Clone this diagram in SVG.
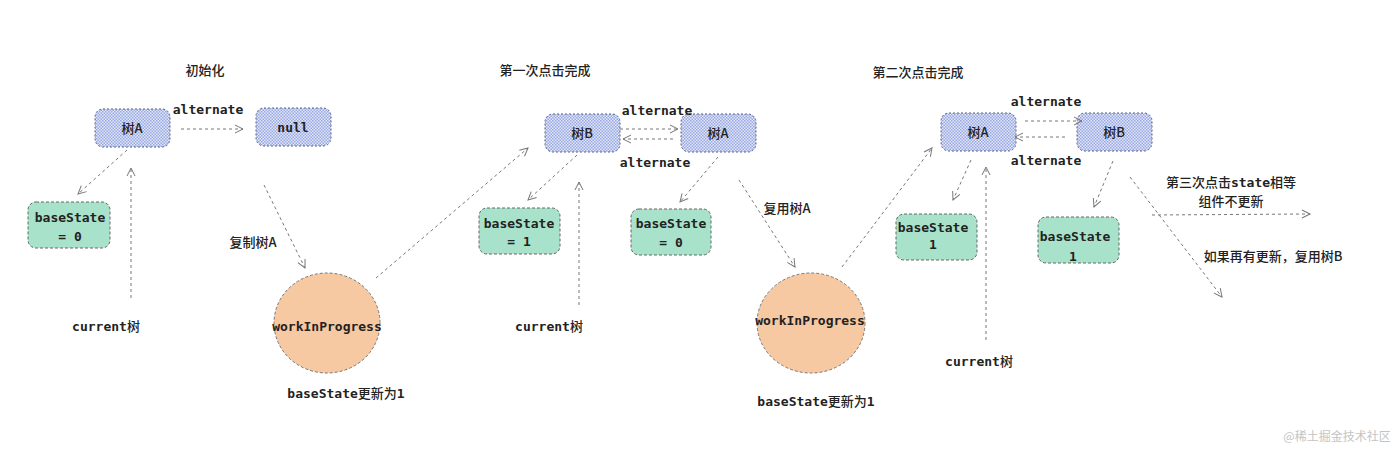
<svg xmlns="http://www.w3.org/2000/svg" width="1400" height="459" viewBox="0 0 1400 459">
<defs>
<pattern id="hatch" width="3" height="3" patternUnits="userSpaceOnUse">
<rect width="3" height="3" fill="#e3e8f9"/>
<rect width="1.5" height="1.5" fill="#97a7e2"/>
<rect x="1.5" y="1.5" width="1.5" height="1.5" fill="#97a7e2"/>
</pattern>
<marker id="arr" markerWidth="12" markerHeight="12" refX="9" refY="5" orient="auto" markerUnits="userSpaceOnUse">
<path d="M1,1 L9,5 L1,9" fill="none" stroke="#777" stroke-width="1"/>
</marker>
</defs>
<style>
.tree{fill:url(#hatch);stroke:#5a5f85;stroke-width:1;stroke-dasharray:2 2}
.state{fill:#a9e2ca;stroke:#666;stroke-width:1;stroke-dasharray:3 2}
.wip{fill:#f7c9a2;stroke:#777;stroke-width:1;stroke-dasharray:3 2}
.lbl{font-family:"DejaVu Sans Mono","Noto Sans CJK SC",monospace;font-size:13px;font-weight:bold;fill:#222;text-anchor:middle}
.cn{font-family:"Noto Sans CJK SC","Noto Sans",sans-serif;font-size:13px;font-weight:500;fill:#222;text-anchor:middle}
.mix{font-family:"DejaVu Sans Mono","Noto Sans CJK SC",monospace;font-size:13px;font-weight:bold;fill:#222;text-anchor:middle}
.conn line{stroke:#777;stroke-width:1;stroke-dasharray:3 3;marker-end:url(#arr)}
.wm{font-family:"Noto Sans CJK SC",sans-serif;font-size:12px;fill:#c4c4c4;text-anchor:middle}
</style>
<rect width="1400" height="459" fill="#ffffff"/>

<!-- titles -->
<text class="cn" x="205" y="75">初始化</text>
<text class="cn" x="545" y="75">第一次点击完成</text>
<text class="cn" x="918" y="77">第二次点击完成</text>

<!-- Section 1 -->
<g id="treeA1"><rect class="tree" x="95" y="109" width="75" height="38" rx="8"/><text class="cn" x="132" y="133">树A</text></g>
<g id="null1"><rect class="tree" x="256" y="108" width="75" height="38" rx="8"/><text class="lbl" x="293" y="132">null</text></g>
<g id="state1"><rect class="state" x="28" y="202" width="82" height="46" rx="8"/><text class="lbl" x="70" y="222">baseState</text><text class="lbl" x="70" y="241">= 0</text></g>
<g id="wip1"><ellipse class="wip" cx="327" cy="323" rx="53" ry="50"/><text class="lbl" x="327" y="331">workInProgress</text></g>
<g id="cur1"><text class="mix" x="106" y="331">current<tspan font-weight="500">树</tspan></text></g>
<g id="note1"><text class="mix" x="346" y="398">baseState<tspan font-weight="500">更新为</tspan>1</text></g>
<g id="copy1"><text class="cn" x="253" y="247">复制树A</text></g>
<g id="alt1"><text class="lbl" x="208" y="114">alternate</text></g>

<!-- Section 2 -->
<g id="treeB2"><rect class="tree" x="545" y="114" width="75" height="38" rx="8"/><text class="cn" x="582" y="138">树B</text></g>
<g id="treeA2"><rect class="tree" x="681" y="114" width="75" height="38" rx="8"/><text class="cn" x="718" y="138">树A</text></g>
<g id="state2a"><rect class="state" x="479" y="208" width="81" height="46" rx="8"/><text class="lbl" x="519" y="228">baseState</text><text class="lbl" x="519" y="246">= 1</text></g>
<g id="state2b"><rect class="state" x="631" y="209" width="80" height="46" rx="8"/><text class="lbl" x="671" y="228">baseState</text><text class="lbl" x="671" y="247">= 0</text></g>
<g id="alt2a"><text class="lbl" x="657" y="115">alternate</text></g>
<g id="alt2b"><text class="lbl" x="655" y="167">alternate</text></g>
<g id="cur2"><text class="mix" x="549" y="331">current<tspan font-weight="500">树</tspan></text></g>
<g id="reuse2"><text class="cn" x="787" y="213">复用树A</text></g>
<g id="wip2"><ellipse class="wip" cx="811" cy="323" rx="54" ry="50"/><text class="lbl" x="810" y="325">workInProgress</text></g>
<g id="note2"><text class="mix" x="816" y="406">baseState<tspan font-weight="500">更新为</tspan>1</text></g>

<!-- Section 3 -->
<g id="treeA3"><rect class="tree" x="941" y="113" width="75" height="38" rx="8"/><text class="cn" x="978" y="137">树A</text></g>
<g id="treeB3"><rect class="tree" x="1077" y="113" width="75" height="38" rx="8"/><text class="cn" x="1114" y="137">树B</text></g>
<g id="alt3a"><text class="lbl" x="1046" y="106">alternate</text></g>
<g id="alt3b"><text class="lbl" x="1046" y="165">alternate</text></g>
<g id="state3a"><rect class="state" x="896" y="214" width="81" height="46" rx="8"/><text class="lbl" x="933" y="232">baseState</text><text class="lbl" x="933" y="249">1</text></g>
<g id="state3b"><rect class="state" x="1038" y="217" width="81" height="46" rx="8"/><text class="lbl" x="1075" y="241">baseState</text><text class="lbl" x="1073" y="261">1</text></g>
<g id="cur3"><text class="mix" x="979" y="366">current<tspan font-weight="500">树</tspan></text></g>
<g id="note3"><text class="mix" x="1231" y="187"><tspan font-weight="500">第三次点击</tspan>state<tspan font-weight="500">相等</tspan></text><text class="cn" x="1231" y="206">组件不更新</text></g>
<g id="note4"><text class="cn" x="1273" y="261">如果再有更新，复用树B</text></g>

<!-- connectors -->
<g id="connectors" class="conn">
<line x1="181" y1="129" x2="243" y2="129"/>
<line x1="127" y1="150" x2="78" y2="194"/>
<line x1="131" y1="298" x2="131" y2="168"/>
<line x1="264" y1="185" x2="305" y2="268"/>
<line x1="376" y1="278" x2="528" y2="148"/>
<line x1="620" y1="129" x2="678" y2="129"/>
<line x1="673" y1="139" x2="623" y2="139"/>
<line x1="577" y1="155" x2="528" y2="200"/>
<line x1="579" y1="305" x2="579" y2="182"/>
<line x1="718" y1="157" x2="680" y2="202"/>
<line x1="739" y1="180" x2="795" y2="267"/>
<line x1="842" y1="267" x2="932" y2="148"/>
<line x1="1025" y1="121" x2="1082" y2="121"/>
<line x1="1065" y1="137" x2="1015" y2="137"/>
<line x1="971" y1="160" x2="953" y2="200"/>
<line x1="986" y1="340" x2="986" y2="167"/>
<line x1="1113" y1="161" x2="1094" y2="207"/>
<line x1="1130" y1="177" x2="1222" y2="297"/>
<line x1="1152" y1="215" x2="1310" y2="214"/>
</g>

<text class="wm" x="1337" y="441">@稀土掘金技术社区</text>
</svg>
